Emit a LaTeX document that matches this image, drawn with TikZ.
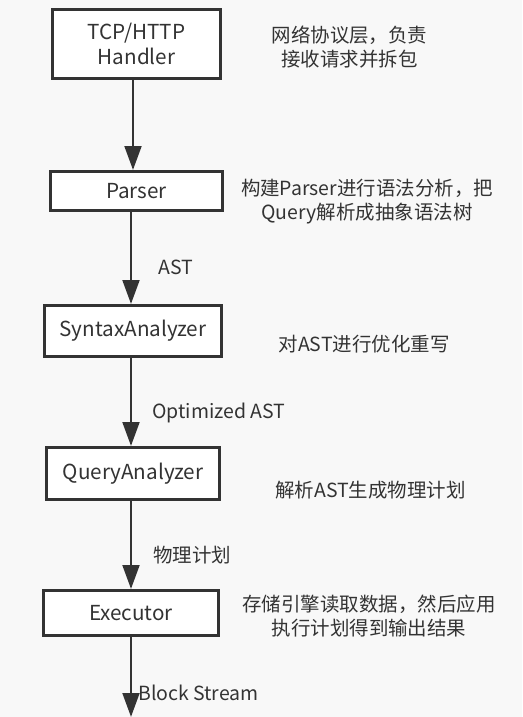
\documentclass[tikz,border=0pt]{standalone}
\usepackage{fontspec}
\setmainfont{Noto Sans CJK SC}
\usetikzlibrary{arrows.meta, positioning}
\definecolor{PageGray}{HTML}{F8F8F8}
\definecolor{StageLine}{HTML}{333333}

\begin{document}
\begin{tikzpicture}[x=0.75pt, y=-0.75pt,
  stagebox/.style={draw=StageLine, line width=2.2pt, fill=white, align=center, inner sep=0pt, text=StageLine, font=\fontsize{15.5}{19}\selectfont},
  flow/.style={draw=StageLine, line width=2.2pt, -{Triangle[length=18pt, width=12.5pt]}},
  note/.style={align=center, text=StageLine, font=\fontsize{14.6}{18}\selectfont},
  flowlabel/.style={anchor=west, inner sep=0pt, text=StageLine, font=\fontsize{14.6}{18}\selectfont}]
  \useasboundingbox[fill=PageGray] (0,0) rectangle (522,717);

  % processing stages
  \node[stagebox, minimum width=126pt, minimum height=51.75pt] (handler) at (136.5,44) {TCP/HTTP\\Handler};
  \node[stagebox, minimum width=129pt, minimum height=29.25pt] (parser) at (136.5,191) {Parser};
  \node[stagebox, minimum width=132.75pt, minimum height=38.25pt] (syntax) at (133,331) {SyntaxAnalyzer};
  \node[stagebox, minimum width=129.75pt, minimum height=39pt] (query) at (133,473.5) {QueryAnalyzer};
  \node[stagebox, minimum width=131.25pt, minimum height=33.75pt] (executor) at (131,613) {Executor};
  \coordinate (out) at (131,717);

  % descriptions
  \node[note] (handlerNote) at (349.5,47.5) {网络协议层，负责\\接收请求并拆包};
  \node[note] (parserNote) at (367,201.5) {构建Parser进行语法分析，把\\Query解析成抽象语法树};
  \node[note] (syntaxNote) at (364,344) {对AST进行优化重写};
  \node[note] (queryNote) at (370.5,490) {解析AST生成物理计划};
  \node[note] (executorNote) at (369,616.5) {存储引擎读取数据，然后应用\\执行计划得到输出结果};

  % data flow
  \draw[flow] (handler.south -| 133,0) -- (parser.north -| 133,0);
  \draw[flow] (parser.south -| 131,0) -- (syntax.north -| 131,0);
  \draw[flow] (syntax.south -| 131,0) -- (query.north -| 131,0);
  \draw[flow] (query.south -| 131,0) -- (executor.north -| 131,0);
  \draw[flow] (executor.south -| out) -- (out);

  \node[flowlabel] (astLabel) at (158,267) {AST};
  \node[flowlabel] (optLabel) at (152,413) {Optimized AST};
  \node[flowlabel] (planLabel) at (153,555) {物理计划};
  \node[flowlabel] (streamLabel) at (138,693) {Block Stream};
\end{tikzpicture}
\end{document}
